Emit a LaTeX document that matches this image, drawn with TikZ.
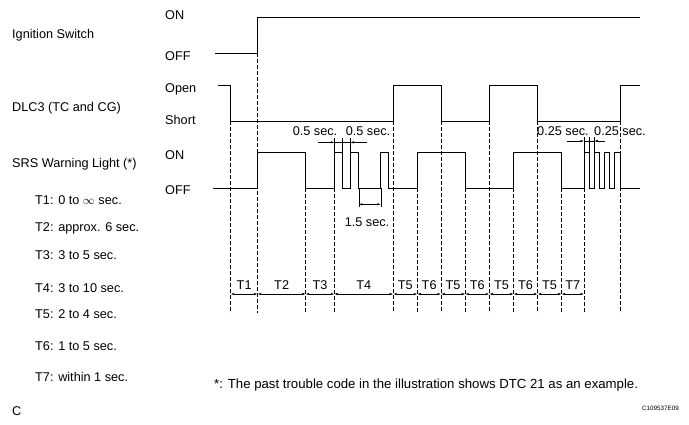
\documentclass[tikz,border=0pt]{standalone}
\usepackage{fontspec}
\setmainfont{Liberation Sans}
\usetikzlibrary{arrows.meta}
\tikzset{
  wave/.style={line width=0.9pt, line join=miter},
  guide/.style={line width=0.5pt, dash pattern=on 3.5pt off 2.5pt},
  thin/.style={line width=0.45pt},
  dimarrow/.style={line width=0.45pt, -{Latex[length=3.5pt,width=2.2pt]}},
  ddimarrow/.style={line width=0.45pt, {Latex[length=3.5pt,width=2.2pt]}-{Latex[length=3.5pt,width=2.2pt]}},
  lbl/.style={font=\fontsize{12.7}{14}\selectfont, inner sep=0pt, anchor=base west},
  clbl/.style={font=\fontsize{12.7}{14}\selectfont, inner sep=0pt, anchor=base},
}
\begin{document}
\begin{tikzpicture}[x=1pt,y=-1pt]
\useasboundingbox (0,0) rectangle (689,424);
% left labels
\node[lbl] (ig) at (12,38.3) {Ignition Switch};
\node[lbl] (dlc) at (12,111.7) {DLC3 (TC and CG)};
\node[lbl] (srs) at (12,167.7) {SRS Warning Light (*)};
\node[lbl] (ion) at (165,19) {ON};
\node[lbl] (ioff) at (165,60) {OFF};
\node[lbl] (dopen) at (165,92.3) {Open};
\node[lbl] (dshort) at (165,124.3) {Short};
\node[lbl] (son) at (165,159.7) {ON};
\node[lbl] (soff) at (165,194) {OFF};
\node[lbl] (t1) at (35,204.5) {T1: 0 to $\infty$ sec.};
\node[lbl] (t2) at (35,231.7) {T2: approx. 6 sec.};
\node[lbl] (t3) at (35,259.3) {T3: 3 to 5 sec.};
\node[lbl] (t4) at (35,292.3) {T4: 3 to 10 sec.};
\node[lbl] (t5) at (35,318.3) {T5: 2 to 4 sec.};
\node[lbl] (t6) at (35,350.7) {T6: 1 to 5 sec.};
\node[lbl] (t7) at (35,381.5) {T7: within 1 sec.};
\node[lbl] (cc) at (12,415) {C};
\node[lbl, font=\fontsize{13.2}{15}\selectfont] (foot) at (214,388) {*: The past trouble code in the illustration shows DTC 21 as an example.};
\node[font=\fontsize{6.3}{7}\selectfont, inner sep=0pt, anchor=base east] (code) at (679,410.5) {C109537E09};
% guide lines
\foreach \x/\t in {230.7/121, 257.6/53.3, 305.7/188.3, 334.3/188.3, 393.2/121, 417.3/188.3, 441/121, 465.2/188.3, 489.3/121, 513.6/188.3, 537.6/121, 561.6/188.3, 584/188.3, 620/121}
  \draw[guide] (\x,\t) -- (\x,313);
% waveforms
\draw[wave] (215,53.3) -- (257.6,53.3) -- (257.6,17.3) -- (640,17.3);
\draw[wave] (218,85) -- (230.7,85) -- (230.7,121) -- (393.2,121) -- (393.2,85) -- (441,85) -- (441,121) -- (489.3,121) -- (489.3,85) -- (537.6,85) -- (537.6,121) -- (620,121) -- (620,85) -- (640,85);
\draw[wave] (213,188.3) -- (257.6,188.3) -- (257.6,152.3) -- (305.7,152.3) -- (305.7,188.3) -- (334.3,188.3) -- (334.3,152.3) -- (342.3,152.3) -- (342.3,188.3) -- (350.3,188.3) -- (350.3,152.3) -- (358.9,152.3) -- (358.9,188.3) -- (380.8,188.3) -- (380.8,152.3) -- (388.9,152.3) -- (388.9,188.3) -- (417.3,188.3) -- (417.3,152.3) -- (465.2,152.3) -- (465.2,188.3) -- (513.6,188.3) -- (513.6,152.3) -- (561.6,152.3) -- (561.6,188.3) -- (584,188.3)
  -- (584,152.3) -- (589.1,152.3) -- (589.1,188.3) -- (594.3,188.3) -- (594.3,152.3) -- (599.4,152.3) -- (599.4,188.3) -- (604.6,188.3) -- (604.6,152.3) -- (609.7,152.3) -- (609.7,188.3) -- (614.9,188.3) -- (614.9,152.3) -- (620,152.3) -- (620,188.3) -- (640,188.3);
% 0.5 sec
\foreach \x in {334.3,342.3,350.3} \draw[thin] (\x,138) -- (\x,152.3);
\coordinate (a1s) at (318,142.3); \coordinate (a1e) at (334.3,142.3);
\coordinate (a2s) at (366.7,142.3); \coordinate (a2e) at (350.3,142.3);
\draw[dimarrow] (a1s) -- (a1e);
\draw[dimarrow] (a2s) -- (a2e);
\draw[thin] (334.3,142.3) -- (350.3,142.3);
\node[clbl] (h1) at (315,135.7) {0.5 sec.};
\node[clbl] (h2) at (368,135.7) {0.5 sec.};
% 0.25 sec
\foreach \x in {584,589.1,594.3} \draw[thin] (\x,137) -- (\x,152.3);
\coordinate (b1s) at (566.7,141); \coordinate (b1e) at (584,141);
\coordinate (b2s) at (605,141); \coordinate (b2e) at (594.3,141);
\draw[dimarrow] (b1s) -- (b1e);
\draw[dimarrow] (b2s) -- (b2e);
\draw[thin] (584,141) -- (594.3,141);
\node[clbl] (q1) at (563,135) {0.25 sec.};
\node[clbl] (q2) at (620,135) {0.25 sec.};
% 1.5 sec
\foreach \x in {358.9,380.8} \draw[thin] (\x,188.3) -- (\x,207);
\coordinate (c1) at (358.9,204.3); \coordinate (c2) at (380.8,204.3);
\draw[ddimarrow] (c1) -- (c2);
\node[clbl] (onefive) at (367,226.7) {1.5 sec.};
% T row
\foreach \a/\b/\n [count=\i] in {230.7/257.6/T1, 257.6/305.7/T2, 305.7/334.3/T3, 334.3/393.2/T4, 393.2/417.3/T5, 417.3/441/T6, 441/465.2/T5, 465.2/489.3/T6, 489.3/513.6/T5, 513.6/537.6/T6, 537.6/561.6/T5, 561.6/584/T7} {
  \coordinate (ta\i) at (\a,294);
  \coordinate (tb\i) at (\b,294);
  \draw[ddimarrow] (ta\i) -- (tb\i);
  \node[clbl] (tl\i) at ({(\a+\b)/2},289) {\n};
}
\end{tikzpicture}
\end{document}
